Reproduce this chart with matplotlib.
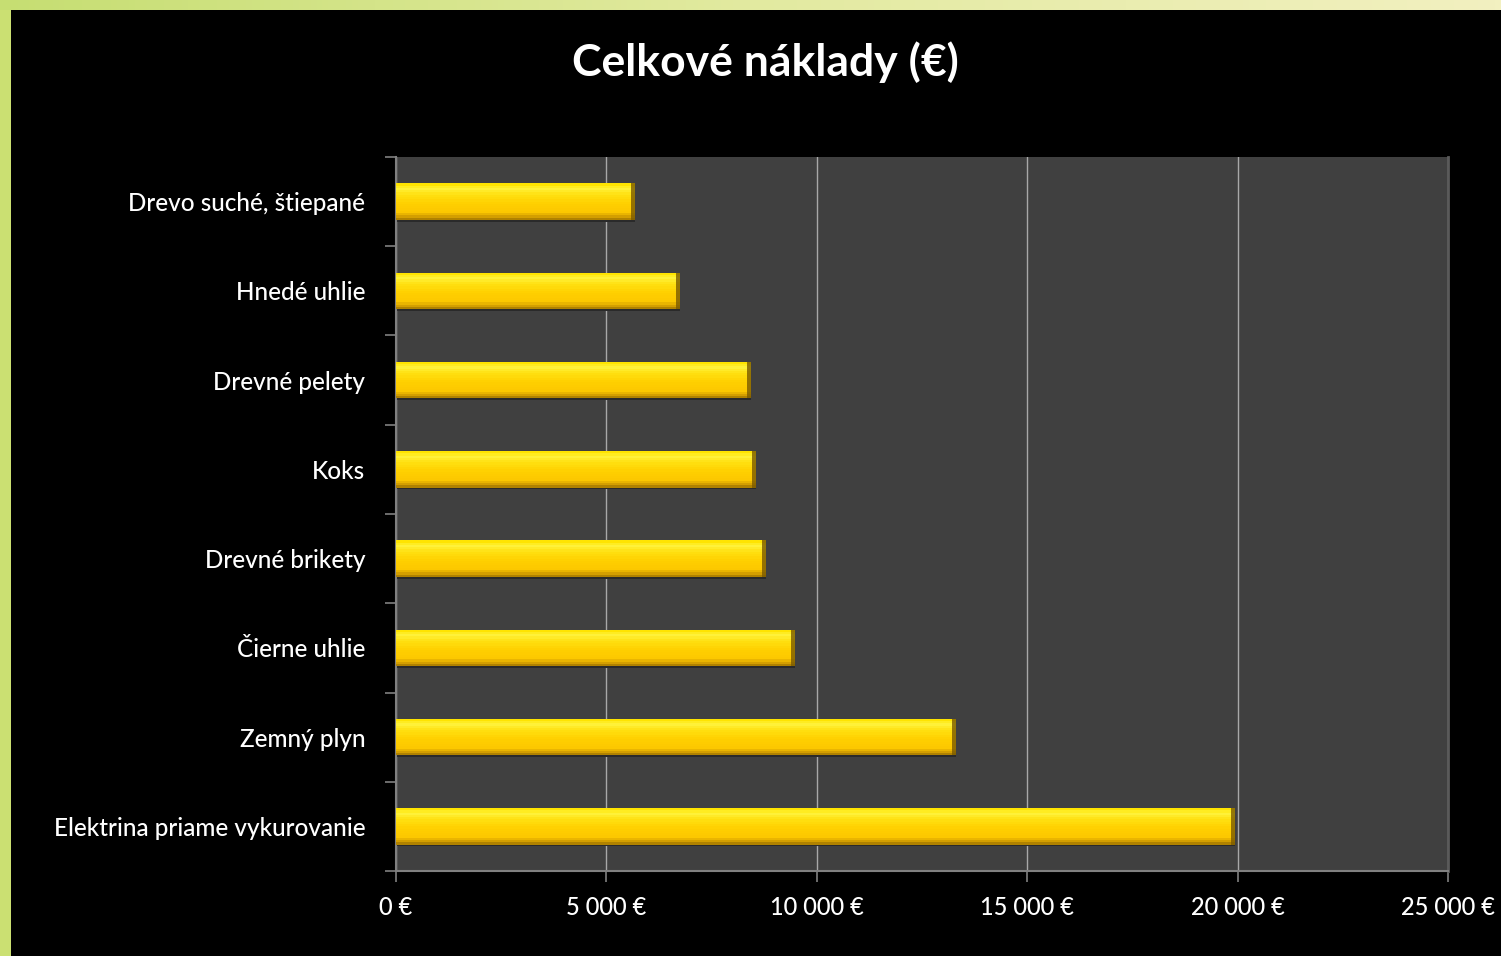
import numpy as np
import matplotlib
matplotlib.use('Agg')
import matplotlib.pyplot as plt
from matplotlib.colors import LinearSegmentedColormap
from matplotlib.ticker import FuncFormatter, MultipleLocator

# hodnoty odčítané z grafu (zhora nadol)
kategorie = ['Drevo suché, štiepané', 'Hnedé uhlie', 'Drevné pelety', 'Koks',
             'Drevné brikety', 'Čierne uhlie', 'Zemný plyn',
             'Elektrina priame vykurovanie']
naklady = [5680, 6750, 8440, 8560, 8790, 9480, 13310, 19940]

plt.rcParams['font.family'] = ['Lato', 'DejaVu Sans']

fig = plt.figure(figsize=(15.01, 9.56), dpi=100, facecolor='black')

# zelenkavý okraj hore a vľavo
top = fig.add_axes([0, 1 - 10 / 956, 1, 10 / 956])
top.imshow(np.linspace(0, 1, 256).reshape(1, -1), aspect='auto',
           cmap=LinearSegmentedColormap.from_list(
               'okraj', ['#c6de72', '#e2eaa0', '#f2f0c0']))
top.set_axis_off()
left = fig.add_axes([0, 0, 11 / 1501, 1 - 10 / 956])
left.set_facecolor('#cbe072')
left.set_xticks([])
left.set_yticks([])
for s in left.spines.values():
    s.set_visible(False)

ax = fig.add_axes([396 / 1501, 1 - 871 / 956, (1448 - 396) / 1501, (871 - 157) / 956])
ax.set_facecolor('#404040')

y = np.arange(len(kategorie))
h = 0.41
n = 16
# farebný prechod stĺpca zhora nadol
prechod = LinearSegmentedColormap.from_list(
    'zlta', [(0, '#ffe400'), (0.12, '#fff23c'), (0.3, '#ffe010'),
             (0.55, '#ffd000'), (0.8, '#fcc800'), (0.92, '#dba500'), (1, '#b08200')])
for k in range(n):
    ax.barh(y - h / 2 + (k + 0.5) * h / n, naklady, height=h / n * 1.05,
            color=prechod(k / (n - 1)), zorder=3, linewidth=0)
# tieň pod stĺpcom a tmavší koniec
ax.barh(y + h / 2 + 0.01, naklady, height=0.02, color='#2a2a2a', zorder=2, linewidth=0)
ax.barh(y, [90] * len(naklady), left=np.array(naklady) - 90, height=h,
        color='#7a5a00', alpha=0.8, zorder=4, linewidth=0)

ax.set_xlim(0, 25000)
ax.set_ylim(len(kategorie) - 0.5, -0.5)
ax.xaxis.set_major_locator(MultipleLocator(5000))
ax.xaxis.set_major_formatter(FuncFormatter(lambda v, p: f'{int(v):,} €'.replace(',', ' ')))
ax.set_yticks(y)
ax.set_yticklabels(kategorie)
ax.set_yticks(np.arange(len(kategorie) + 1) - 0.5, minor=True)
ax.tick_params(axis='y', which='major', length=0, pad=22, labelsize=17.5, labelcolor='white')
ax.tick_params(axis='y', which='minor', length=8, width=1.2, color='#808080')
ax.tick_params(axis='x', length=8, width=1.2, color='#808080', pad=10,
               labelsize=17, labelcolor='white')
for lab in ax.get_xticklabels() + ax.get_yticklabels():
    lab.set_fontweight('medium')

ax.grid(axis='x', color='#a8a8a8', linewidth=1, zorder=1)
ax.set_axisbelow(True)
ax.spines['top'].set_visible(False)
ax.spines['right'].set_color('#5a5a5a')
ax.spines['right'].set_linewidth(2)
ax.spines['left'].set_color('#808080')
ax.spines['bottom'].set_color('#808080')
ax.spines['left'].set_linewidth(1.5)
ax.spines['bottom'].set_linewidth(1.5)

fig.text(765 / 1501, 1 - 62 / 956, 'Celkové náklady (€)', ha='center', va='center',
         fontsize=32, fontweight='bold', color='white')

fig.savefig('out.png', dpi=100, facecolor='black')
